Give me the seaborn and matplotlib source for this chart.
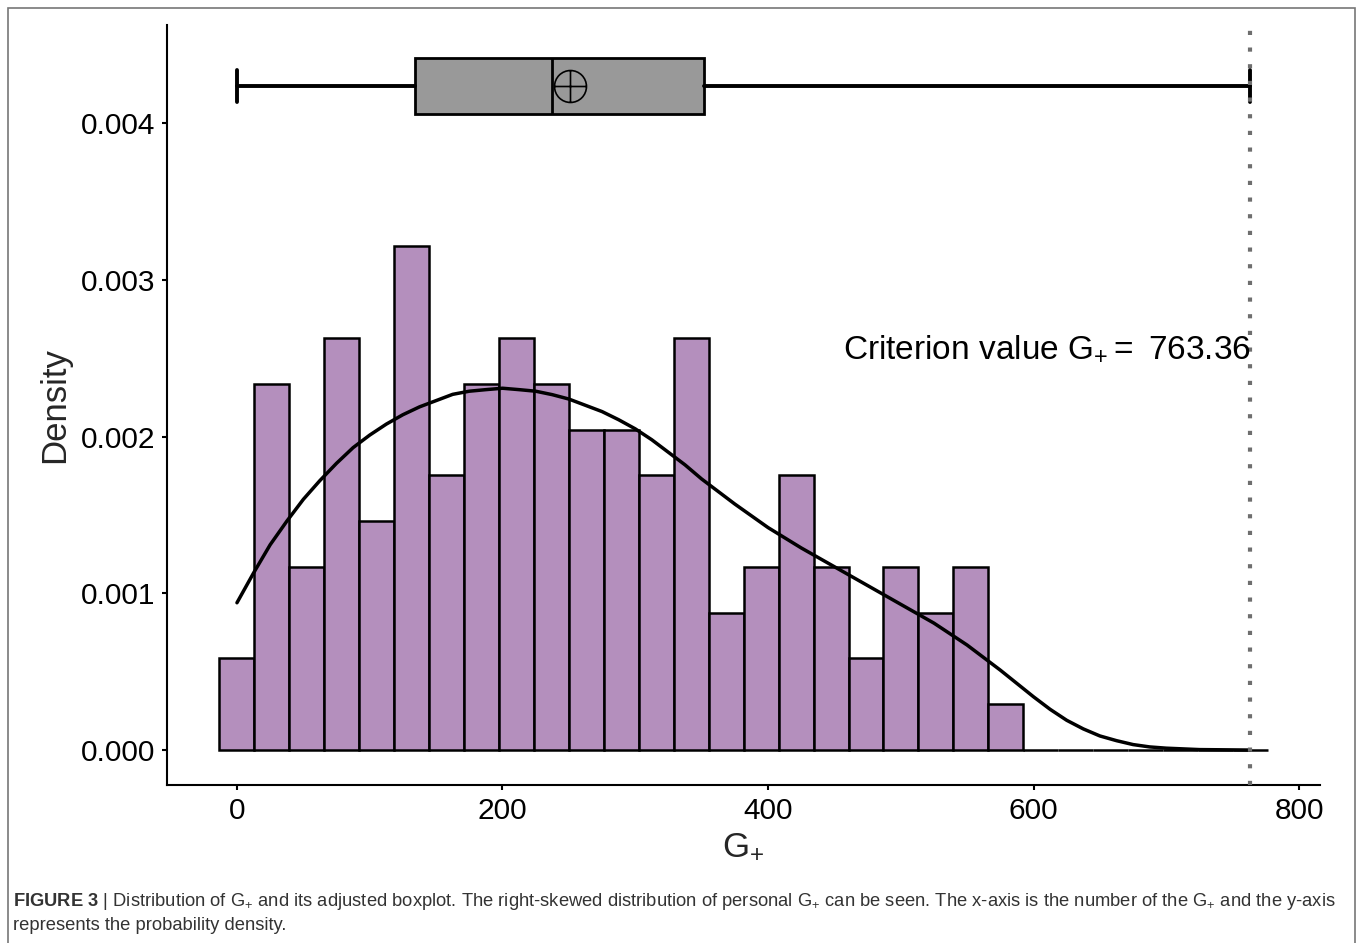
import numpy as np
import pandas as pd
import matplotlib
matplotlib.use("Agg")
import matplotlib.pyplot as plt
import seaborn as sns
from matplotlib.path import Path
from matplotlib.patches import Rectangle

# ---- data -------------------------------------------------------------
criterion = 763.36          # largest G+ / criterion value
n_bins = 30

# observations per histogram bin (bins centred on k * criterion / 29)
bin_counts = [2, 8, 4, 9, 5, 11, 6, 8, 9, 8, 7, 7, 6, 9, 3,
              4, 6, 4, 2, 4, 3, 4, 1, 0, 0, 0, 0, 0, 0, 0]

# smoothed density curve
curve_x = [0, 12.5, 25, 37.5, 50, 62.5, 75, 87.5, 100, 112.5, 125, 137.5,
           150, 162.5, 175, 187.5, 200, 212.5, 225, 237.5, 250, 262.5, 275,
           287.5, 300, 312.5, 325, 337.5, 350, 362.5, 375, 387.5, 400,
           412.5, 425, 437.5, 450, 462.5, 475, 487.5, 500, 512.5, 525,
           537.5, 550, 562.5, 575, 587.5, 600, 612.5, 625, 637.5, 650,
           662.5, 675, 687.5, 700, 725, 763.36]
curve_y = [0.00094, 0.00113, 0.00131, 0.00146, 0.00160, 0.00172, 0.00183,
           0.00193, 0.00201, 0.00208, 0.00214, 0.00219, 0.00223, 0.00227,
           0.00229, 0.00230, 0.002309, 0.00230, 0.00229, 0.002268, 0.00224,
           0.00220, 0.00216, 0.002108, 0.00205, 0.00198, 0.00190, 0.00182,
           0.00173, 0.00165, 0.00157, 0.001495, 0.00142, 0.001355, 0.00129,
           0.00123, 0.00117, 0.00111, 0.00105, 0.00099, 0.00093, 0.00087,
           0.00081, 0.00074, 0.00067, 0.00059, 0.00051, 0.000425, 0.00034,
           0.00026, 0.00019, 0.000135, 0.00009, 0.00006, 0.000035, 0.00002,
           0.000012, 0.000003, 0.0]

# adjusted boxplot summary
box_stats = dict(whislo=0.0, q1=134.0, med=237.0, mean=251.0,
                 q3=352.0, whishi=763.36)

x_ticks = [0, 200, 400, 600, 800]
y_ticks = [0.000, 0.001, 0.002, 0.003, 0.004]

# ---- style ------------------------------------------------------------
sns.set_style("ticks")
plt.rcParams["font.family"] = ["Liberation Sans", "DejaVu Sans"]
plt.rcParams["mathtext.fontset"] = "custom"
plt.rcParams["mathtext.rm"] = "Liberation Sans"
plt.rcParams["mathtext.it"] = "Liberation Sans:italic"
plt.rcParams["mathtext.bf"] = "Liberation Sans:bold"

W, H = 1357, 943
fig = plt.figure(figsize=(W / 100, H / 100), dpi=100)
ax = fig.add_axes([167 / W, 1 - 785 / H, (1320 - 167) / W, (785 - 25) / H])

# ---- histogram ----------------------------------------------------------
bw = criterion / (n_bins - 1)
centers = np.arange(n_bins) * bw
edges = [float(c - bw / 2) for c in centers] + [float(centers[-1] + bw / 2)]
hist_df = pd.DataFrame({"g": centers, "n": bin_counts})
sns.histplot(data=hist_df, x="g", weights="n", bins=edges, stat="density",
             color="#B48FBD", edgecolor="black", linewidth=1.8, alpha=1,
             ax=ax, zorder=2)

# ---- density curve ------------------------------------------------------
sns.lineplot(x=curve_x, y=curve_y, color="black", linewidth=2.5,
             ax=ax, zorder=3)

# ---- criterion line + label -------------------------------------------
ax.axvline(criterion, color="#6E6E6E", linewidth=3,
           linestyle=(0, (1, 3)), zorder=4)
ax.text(criterion, 0.00256, r"Criterion value G$_{+}$$=$ 763.36",
        ha="right", va="center", fontsize=24, color="black", zorder=5)

# ---- adjusted boxplot at the top ---------------------------------------
oplus = Path.make_compound_path(
    Path.unit_circle(),
    Path([(-1, 0), (1, 0)], [Path.MOVETO, Path.LINETO]),
    Path([(0, -1), (0, 1)], [Path.MOVETO, Path.LINETO]),
)
ax.bxp([box_stats], positions=[0.004237], widths=0.000358,
       orientation="horizontal", patch_artist=True, showmeans=True,
       showfliers=False, manage_ticks=False, capwidths=0.0002,
       boxprops=dict(facecolor="#999999", edgecolor="black", linewidth=2),
       whiskerprops=dict(color="black", linewidth=2.8),
       capprops=dict(color="black", linewidth=2.8),
       medianprops=dict(color="black", linewidth=2),
       meanprops=dict(marker=oplus, markersize=23, markerfacecolor="none",
                      markeredgecolor="black", markeredgewidth=1.2))

# ---- axes ---------------------------------------------------------------
ax.set_xlim(-52.7, 815.8)
ax.set_ylim(-0.000223, 0.004627)
ax.set_xticks(x_ticks)
ax.set_xticklabels([str(v) for v in x_ticks])
ax.set_yticks(y_ticks)
ax.set_yticklabels([f"{v:.3f}" for v in y_ticks])
sns.despine(ax=ax)
for s in ("left", "bottom"):
    ax.spines[s].set_linewidth(1.5)
    ax.spines[s].set_color("black")
ax.tick_params(axis="both", length=3.6, width=1.5, color="black",
               labelsize=21.5, labelcolor="black", pad=5)
ax.set_xlabel(r"G$_{+}$", fontsize=25, labelpad=3)
ax.set_ylabel("Density", fontsize=25, labelpad=7)

# ---- caption and frame ---------------------------------------------------
fig.text(13 / W, 1 - 901 / H,
         r"$\mathbf{FIGURE\ 3}$ | Distribution of G$_{+}$ and its adjusted boxplot. "
         r"The right-skewed distribution of personal G$_{+}$ can be seen. "
         r"The x-axis is the number of the G$_{+}$ and the y-axis",
         ha="left", va="center", fontsize=13.2, color="#333333")
fig.text(13 / W, 1 - 926 / H, "represents the probability density.",
         ha="left", va="center", fontsize=13.2, color="#333333")
fig.patches.append(Rectangle((8 / W, -0.05), (1355 - 8) / W, 1.05 - 8 / H,
                             transform=fig.transFigure, fill=False,
                             edgecolor="#777777", linewidth=1.2))

fig.savefig("out.png", dpi=100)
